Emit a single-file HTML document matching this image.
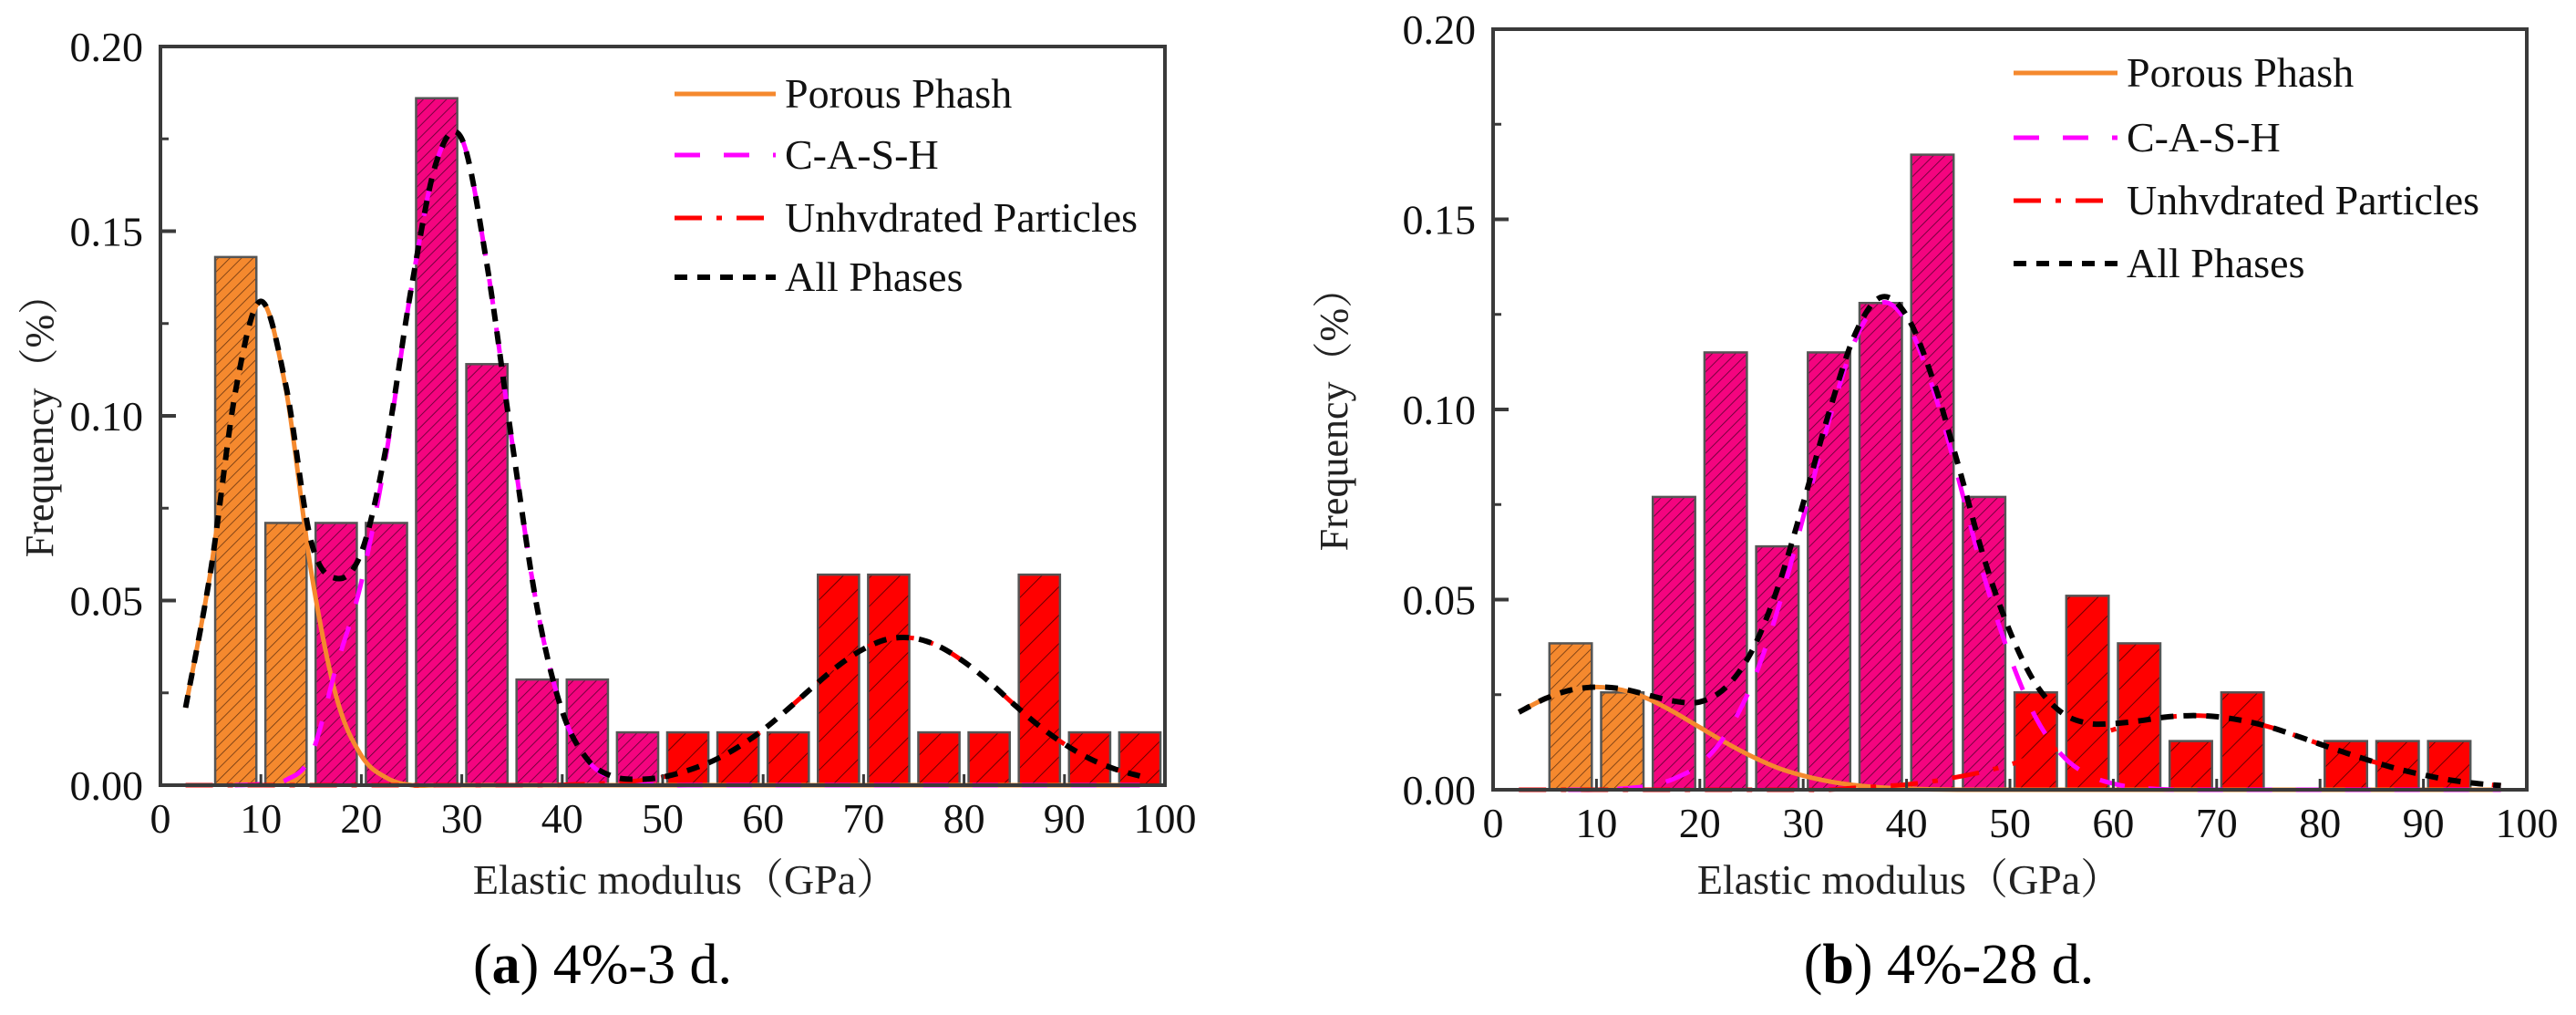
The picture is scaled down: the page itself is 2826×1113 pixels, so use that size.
<!DOCTYPE html>
<html><head><meta charset="utf-8"><style>
html,body{margin:0;padding:0;background:#fff}
svg{display:block;font-family:"Liberation Serif","Noto Serif CJK SC",serif}
</style></head><body>
<svg id="fig" width="2826" height="1113" viewBox="0 0 2826 1113" xmlns="http://www.w3.org/2000/svg">
<defs>
<pattern id="hatchO" patternUnits="userSpaceOnUse" width="9" height="9" patternTransform="rotate(45)"><rect width="9" height="9" fill="#F5892E"/><line x1="0" y1="0" x2="0" y2="9" stroke="#6a3510" stroke-width="1.6"/></pattern>
<pattern id="hatchP" patternUnits="userSpaceOnUse" width="9" height="9" patternTransform="rotate(45)"><rect width="9" height="9" fill="#F4047F"/><line x1="0" y1="0" x2="0" y2="9" stroke="#5a0030" stroke-width="1.6"/></pattern>
<pattern id="hatchR" patternUnits="userSpaceOnUse" width="22" height="22" patternTransform="rotate(45)"><rect width="22" height="22" fill="#FF0000"/><line x1="0" y1="0" x2="0" y2="22" stroke="#5a0000" stroke-width="1.8"/></pattern>
</defs>
</svg>
<script>
// ---------- data: chart (a) 4%-3 d ----------
const binStartsA = [5,10,15,20,25,30,35,40,45,50,55,60,65,70,75,80,85,90,95];
const freqA      = [0.143,0.071,0.071,0.071,0.186,0.114,0.0286,0.0286,0.0143,0.0143,0.0143,0.0143,0.057,0.057,0.0143,0.0143,0.057,0.0143,0.0143];
const phaseA     = ["O","O","P","P","P","P","P","P","P","R","R","R","R","R","R","R","R","R","R"];
const curveX = [2.5,5,7.5,10,12.5,15,17.5,20,22.5,25,27.5,30,32.5,35,37.5,40,42.5,45,47.5,50,52.5,55,57.5,60,62.5,65,67.5,70,72.5,75,77.5,80,82.5,85,87.5,90,92.5,95,97.5];
const porousA = [0.021,0.058,0.107,0.131,0.107,0.058,0.024,0.008,0.002,0,0,0,0,0,0,0,0,0,0,0,0,0,0,0,0,0,0,0,0,0,0,0,0,0,0,0,0,0,0];
const cashA   = [0,0,0,0.0003,0.0014,0.008,0.032,0.055,0.09,0.135,0.169,0.175,0.141,0.093,0.048,0.020,0.0068,0.0018,0.0004,0,0,0,0,0,0,0,0,0,0,0,0,0,0,0,0,0,0,0,0];
const unhydA  = [0,0,0,0,0,0,0,0,0,0,0,0,0,0,0,0.0001,0.0003,0.0006,0.0012,0.0022,0.004,0.0066,0.0103,0.015,0.0207,0.0267,0.0324,0.0369,0.0396,0.0398,0.0376,0.0334,0.028,0.0218,0.016,0.0111,0.0072,0.0044,0.0025];
const allA    = [0.021,0.058,0.107,0.131,0.108,0.066,0.056,0.063,0.092,0.135,0.169,0.175,0.141,0.093,0.048,0.020,0.007,0.0024,0.0016,0.0022,0.004,0.0066,0.0103,0.015,0.0207,0.0267,0.0324,0.0369,0.0396,0.0398,0.0376,0.0334,0.028,0.0218,0.016,0.0111,0.0072,0.0044,0.0025];
// ---------- data: chart (b) 4%-28 d ----------
const binStartsB = [5,10,15,20,25,30,35,40,45,50,55,60,65,70,80,85,90];
const freqB      = [0.0385,0.0256,0.077,0.115,0.064,0.115,0.128,0.167,0.077,0.0256,0.051,0.0385,0.0128,0.0256,0.0128,0.0128,0.0128];
const phaseB     = ["O","O","P","P","P","P","P","P","P","R","R","R","R","R","R","R","R"];
const porousB = [0.0204,0.0239,0.0262,0.027,0.0262,0.0239,0.0204,0.0164,0.0124,0.0088,0.0058,0.0037,0.0022,0.0012,0.0006,0.0003,0.0001,0,0,0,0,0,0,0,0,0,0,0,0,0,0,0,0,0,0,0,0,0,0];
const cashB   = [0,0,0,0,0.0003,0.001,0.0029,0.0067,0.0145,0.0275,0.047,0.0716,0.097,0.118,0.128,0.123,0.106,0.082,0.056,0.035,0.019,0.0092,0.004,0.0016,0.0005,0.0001,0,0,0,0,0,0,0,0,0,0,0,0,0];
const unhydB  = [0,0,0,0,0,0,0,0,0,0,0,0,0,0.0005,0.0009,0.0014,0.0022,0.0034,0.0048,0.0066,0.0088,0.0111,0.0135,0.0158,0.0176,0.019,0.0195,0.0192,0.0182,0.0166,0.0144,0.012,0.0097,0.0075,0.0055,0.0039,0.0026,0.0017,0.0011];
const allB    = [0.0204,0.0239,0.0262,0.027,0.0265,0.0249,0.0233,0.0231,0.0269,0.0363,0.0528,0.0753,0.0992,0.1197,0.1295,0.1247,0.1083,0.0854,0.0608,0.0416,0.0278,0.0203,0.0175,0.0174,0.0181,0.0191,0.0195,0.0192,0.0182,0.0166,0.0144,0.012,0.0097,0.0075,0.0055,0.0039,0.0026,0.0017,0.0011];
// ---------- ticks ----------
const xTickLabels = ["0","10","20","30","40","50","60","70","80","90","100"];
const yTickLabels = ["0.00","0.05","0.10","0.15","0.20"];
const legendLabels = ["Porous Phash","C-A-S-H","Unhvdrated Particles","All Phases"];

const NS="http://www.w3.org/2000/svg";
const svg=document.getElementById('fig');
function mk(tag,attrs,parent){const e=document.createElementNS(NS,tag);for(const k in attrs)e.setAttribute(k,attrs[k]);(parent||svg).appendChild(e);return e;}

const fills={O:"url(#hatchO)",P:"url(#hatchP)",R:"url(#hatchR)"};
const styles=[
 {stroke:"#F5892E",dash:"",w:5},
 {stroke:"#FF00FF",dash:"28 26",w:5},
 {stroke:"#FF0000",dash:"30 16 6 16",w:5},
 {stroke:"#000000",dash:"14 11",w:6}
];

function smoothPath(pts){
  let d='M'+pts[0][0].toFixed(1)+' '+pts[0][1].toFixed(1);
  for(let i=0;i<pts.length-1;i++){
    const p0=pts[Math.max(0,i-1)],p1=pts[i],p2=pts[i+1],p3=pts[Math.min(pts.length-1,i+2)];
    const c1x=p1[0]+(p2[0]-p0[0])/6,c1y=p1[1]+(p2[1]-p0[1])/6;
    const c2x=p2[0]-(p3[0]-p1[0])/6,c2y=p2[1]-(p3[1]-p1[1])/6;
    d+=' C'+c1x.toFixed(1)+' '+c1y.toFixed(1)+' '+c2x.toFixed(1)+' '+c2y.toFixed(1)+' '+p2[0].toFixed(1)+' '+p2[1].toFixed(1);
  }
  return d;
}

function drawChart(c){
  const g=mk('g',{});
  
  
  const X=v=>c.x0+(v/100)*(c.x1-c.x0);
  const Y=v=>c.y0-(v/0.20)*(c.y0-c.yt);
  c.bins.forEach((b,i)=>{
    const r=mk('rect',{x:X(b+0.45),y:Y(c.freq[i]),width:X(b+4.55)-X(b+0.45),height:c.y0-Y(c.freq[i]),fill:fills[c.phase[i]],stroke:"#555",'stroke-width':2.5},g);
    
    
  });
  c.curves.forEach((arr,k)=>{
    const pts=curveX.map((xv,i)=>[X(xv),Math.min(c.y0,Y(arr[i]))]);
    const p=mk('path',{d:smoothPath(pts),fill:'none',stroke:styles[k].stroke,'stroke-width':styles[k].w,'stroke-dasharray':styles[k].dash,'stroke-linejoin':'round'},g);
    
    
  });
  const box=mk('rect',{x:c.x0,y:c.yt,width:c.x1-c.x0,height:c.y0-c.yt,fill:'none',stroke:'#3a3a3a','stroke-width':4},g);
  
  
  yTickLabels.forEach((lab,i)=>{
    const v=i*0.05,y=Y(v);
    if(i>0&&i<4) mk('line',{x1:c.x0,x2:c.x0+17,y1:y,y2:y,stroke:'#3a3a3a','stroke-width':4},g);
    if(i<4){const ym=Y(v+0.025);mk('line',{x1:c.x0,x2:c.x0+9,y1:ym,y2:ym,stroke:'#3a3a3a','stroke-width':3},g);}
    const t=mk('text',{x:c.x0-19,y:y+16,'text-anchor':'end','font-size':46,fill:'#111'},g);
    t.textContent=lab;
    
    
  });
  xTickLabels.forEach((lab,i)=>{
    const x=X(i*10);
    if(i>0&&i<10) mk('line',{x1:x,x2:x,y1:c.y0,y2:c.y0-12,stroke:'#3a3a3a','stroke-width':3},g);
    const t=mk('text',{x:x,y:c.y0+52,'text-anchor':'middle','font-size':46,fill:'#111'},g);
    t.textContent=lab;
    
    
  });
  const xt=mk('text',{x:c.xtX,y:980,'text-anchor':'middle','font-size':46,fill:'#222'},g);
  xt.textContent='Elastic modulus（GPa）';
  
  
  const yc=(c.y0+c.yt)/2;
  const yt=mk('text',{x:0,y:0,'text-anchor':'middle','font-size':44,fill:'#222',transform:`translate(${c.ytX},${yc}) rotate(-90)`},g);
  yt.textContent='Frequency（%）';
  
  
  c.leg.rows.forEach((ry,k)=>{
    const l=mk('line',{x1:c.leg.lx0,x2:c.leg.lx1,y1:ry,y2:ry,stroke:styles[k].stroke,'stroke-width':styles[k].w,'stroke-dasharray':styles[k].dash},g);
    
    
    const t=mk('text',{x:c.leg.tx,y:ry+15,'font-size':46,fill:'#111'},g);
    t.textContent=legendLabels[k];
    
    
  });
  const cap=mk('text',{x:c.capX,y:1078,'text-anchor':'middle','font-size':62,fill:'#000'},g);
  cap.innerHTML='(<tspan font-weight="bold">'+c.key+'</tspan>) '+c.cap;
  
  
}

drawChart({name:'chart-a',key:'a',x0:176,x1:1278,y0:861,yt:51,bins:binStartsA,freq:freqA,phase:phaseA,
  curves:[porousA,cashA,unhydA,allA],xtX:752,ytX:58,capX:661,cap:'4%-3 d.',
  leg:{lx0:740,lx1:851,tx:861,rows:[103,170,239,304]}});
drawChart({name:'chart-b',key:'b',x0:1638,x1:2772,y0:866,yt:32,bins:binStartsB,freq:freqB,phase:phaseB,
  curves:[porousB,cashB,unhydB,allB],xtX:2095,ytX:1478,capX:2138,cap:'4%-28 d.',
  leg:{lx0:2209,lx1:2323,tx:2333,rows:[80,151,220,289]}});
</script>
</body></html>
